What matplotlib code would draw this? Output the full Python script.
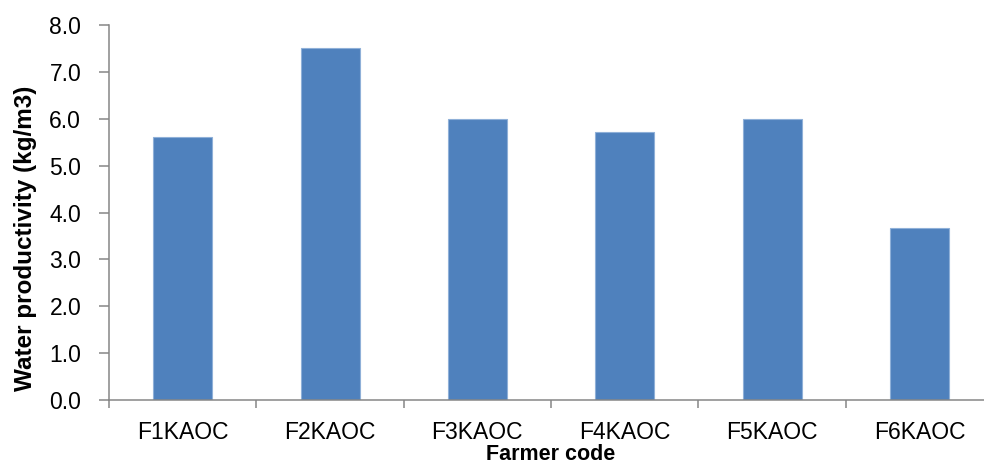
import matplotlib
matplotlib.use("Agg")
import matplotlib.pyplot as plt
import numpy as np

farmers = ["F1KAOC", "F2KAOC", "F3KAOC", "F4KAOC", "F5KAOC", "F6KAOC"]
productivity = [5.61, 7.50, 6.00, 5.71, 6.00, 3.67]
y_ticks = [0.0, 1.0, 2.0, 3.0, 4.0, 5.0, 6.0, 7.0, 8.0]

plt.rcParams["font.family"] = ["Liberation Sans", "DejaVu Sans"]

fig = plt.figure(figsize=(9.84, 4.69), dpi=100)
ax = fig.add_axes([0.1108, 0.147, 0.8984, 0.7996])

x = np.arange(len(farmers))
ax.bar(x, productivity, width=0.4, color="#4f81bd", edgecolor="#8fb0d8", linewidth=0.8)

ax.set_xlim(-0.5, len(farmers) - 0.5)
ax.set_ylim(0, 8)
ax.set_yticks(y_ticks)
ax.set_yticklabels([f"{v:.1f}" for v in y_ticks])

# ticks on the category borders, labels in the middle
ax.set_xticks(np.arange(len(farmers) + 1) - 0.5)
ax.set_xticklabels([])
ax.set_xticks(x, minor=True)
ax.set_xticklabels(farmers, minor=True)
ax.tick_params(axis="x", which="major", length=6, width=1.1, color="#868686", direction="out")
ax.tick_params(axis="x", which="minor", length=0, pad=15, labelsize=16.5)
ax.tick_params(axis="y", length=7, width=1.1, color="#868686", direction="out", pad=13, labelsize=16.5)

for s in ["top", "right"]:
    ax.spines[s].set_visible(False)
for s in ["left", "bottom"]:
    ax.spines[s].set_color("#868686")
    ax.spines[s].set_linewidth(1.1)

ax.set_ylabel("Water productivity (kg/m3)", fontsize=17.5, fontweight="bold")
ax.yaxis.set_label_coords(-0.081, 0.432)
ax.set_xlabel("Farmer code", fontsize=15.5, fontweight="bold", labelpad=0)

fig.savefig("out.png", dpi=100)
